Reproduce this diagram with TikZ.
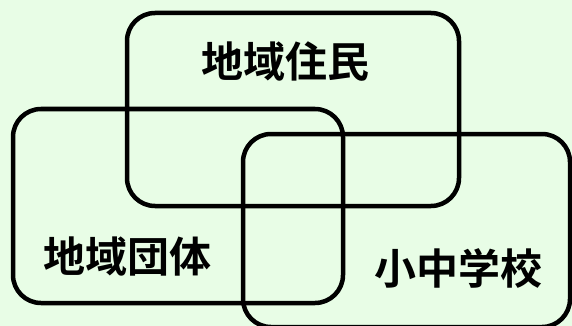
\documentclass[tikz,border=0pt]{standalone}
\usepackage{fontspec}
\newfontfamily\cjk{Noto Sans CJK JP Bold}
\definecolor{bg}{RGB}{232,253,230}
\begin{document}
\begin{tikzpicture}[x=1pt,y=-1pt,
  box/.style={draw=black, line width=4.5pt, rounded corners=28pt, inner sep=0pt, minimum width=#1},
  lbl/.style={font=\cjk\fontsize{42}{46}\selectfont, inner sep=0pt, text=black}]
\fill[bg] (0,0) rectangle (572,326);
\useasboundingbox (0,0) rectangle (572,326);
\node[box=332pt, minimum height=193pt] (top) at (293,109.5) {};
\node[box=330pt, minimum height=194pt] (left) at (178,206) {};
\node[box=327pt, minimum height=193pt] (right) at (406.5,230.5) {};
\node[lbl] (t1) at (285,62) {地域住民};
\node[lbl] (t2) at (127,257) {地域団体};
\node[lbl] (t3) at (458,268) {小中学校};
\end{tikzpicture}
\end{document}
